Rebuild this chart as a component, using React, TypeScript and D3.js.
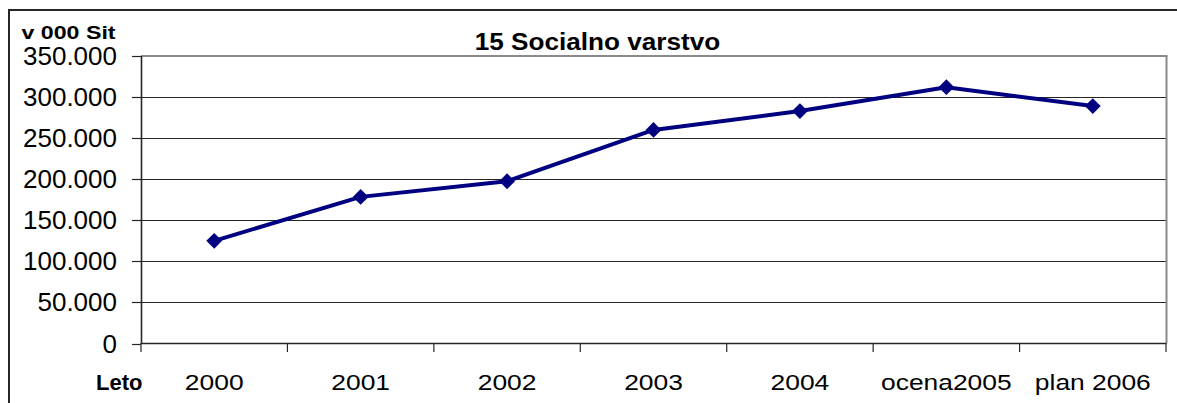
import React from "react";
import * as d3 from "d3";

const categories = ["2000", "2001", "2002", "2003", "2004", "ocena2005", "plan 2006"];
const values = [125000, 178500, 197500, 260000, 283000, 312000, 289000];
const yTicks = [0, 50000, 100000, 150000, 200000, 250000, 300000, 350000];
const title = "15 Socialno varstvo";
const unitLabel = "v 000 Sit";
const axisLabel = "Leto";

const W = 1177;
const H = 403;
const FONT = "'Liberation Sans', Arial, Helvetica, sans-serif";

export default function App() {
  const x = d3.scaleBand<string>().domain(categories).range([141, 1166]).paddingInner(0).paddingOuter(0);
  const y = d3.scaleLinear().domain([0, 350000]).range([343.5, 56]);
  const fmt = d3.formatLocale({ decimal: ",", thousands: ".", grouping: [3], currency: ["", ""] }).format(",d");
  const cx = (c: string) => (x(c) as number) + x.bandwidth() / 2;

  const line = d3
    .line<number>()
    .x((_, i) => cx(categories[i]))
    .y((d) => y(d));
  const diamond = d3.symbol(d3.symbolSquare, 125)();
  const boundaries = categories.map((c) => x(c) as number).concat([1166]);

  return (
    <svg
      width={W}
      height={H}
      style={{ position: "absolute", left: 0, top: 0, background: "#fff" }}
      fontFamily={FONT}
    >
      {/* chart outer border */}
      <rect x={9} y={10} width={1300} height={600} fill="none" stroke="#262626" strokeWidth={2} />

      {/* gridlines */}
      {yTicks.slice(1, -1).map((t) => (
        <line key={t} x1={141} x2={1166} y1={Math.round(y(t)) + 0.5} y2={Math.round(y(t)) + 0.5} stroke="#262626" strokeWidth={1} />
      ))}
      {/* plot area top & right border */}
      <line x1={141} x2={1167.5} y1={56} y2={56} stroke="#8a8a8a" strokeWidth={2} />
      <line x1={1166.5} x2={1166.5} y1={56} y2={343.5} stroke="#8a8a8a" strokeWidth={2} />

      {/* y axis */}
      <line x1={141.5} x2={141.5} y1={56} y2={344} stroke="#262626" strokeWidth={1.6} />
      {yTicks.map((t) => (
        <g key={t}>
          <line x1={132} x2={141} y1={Math.round(y(t)) + 0.5} y2={Math.round(y(t)) + 0.5} stroke="#262626" strokeWidth={1.2} />
          <text x={117} y={y(t) + 9} textAnchor="end" fontSize={26} fill="#000">
            {fmt(t)}
          </text>
        </g>
      ))}

      {/* x axis */}
      <line x1={141} x2={1166} y1={343.5} y2={343.5} stroke="#262626" strokeWidth={1.6} />
      {boundaries.map((b, i) => (
        <line key={i} x1={b} x2={b} y1={343} y2={352} stroke="#262626" strokeWidth={1.2} />
      ))}
      {categories.map((c) => (
        <text key={c} transform={`translate(${cx(c)},390) scale(1.2,1)`} textAnchor="middle" fontSize={22} fill="#000">
          {c}
        </text>
      ))}
      <text x={96} y={390} fontSize={22} fontWeight="bold" fill="#000">
        {axisLabel}
      </text>

      {/* titles */}
      <text transform="translate(597.5,50) scale(1.09,1)" textAnchor="middle" fontSize={24} fontWeight="bold" fill="#000">
        {title}
      </text>
      <text transform="translate(21.5,38.5) scale(1.22,1)" fontSize={19} fontWeight="bold" fill="#000">
        {unitLabel}
      </text>

      {/* series */}
      <path d={line(values) || ""} fill="none" stroke="#000080" strokeWidth={4} strokeLinejoin="round" />
      {values.map((v, i) => (
        <path key={i} d={diamond || ""} transform={`translate(${cx(categories[i])},${y(v)}) rotate(45)`} fill="#000080" />
      ))}
    </svg>
  );
}
